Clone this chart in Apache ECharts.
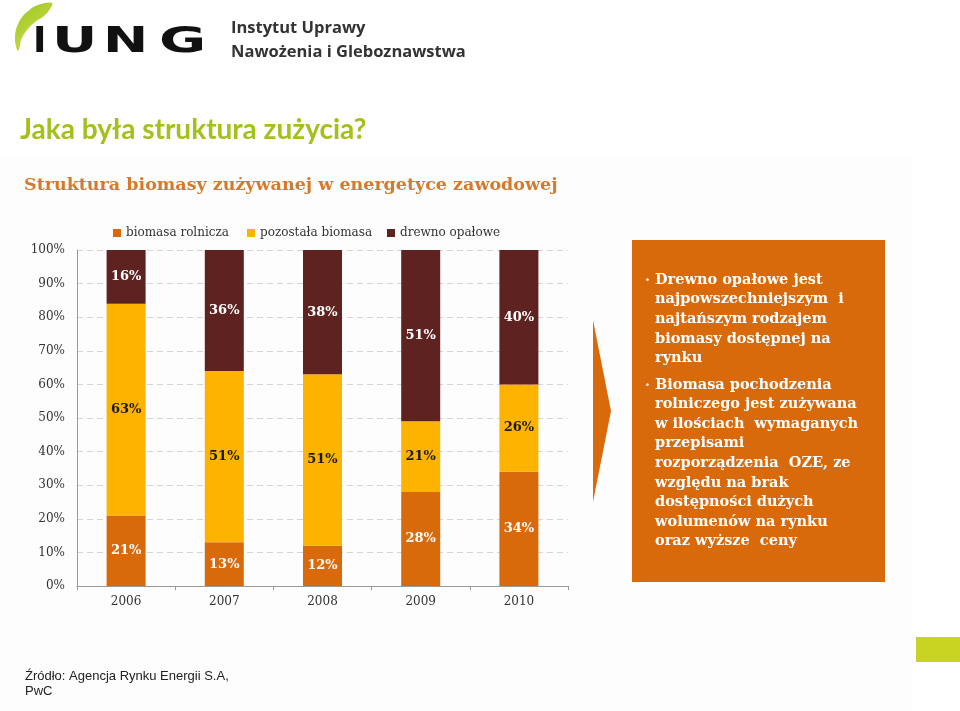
<!DOCTYPE html>
<html><head><meta charset="utf-8">
<script src="https://cdn.jsdelivr.net/npm/echarts@6/dist/echarts.min.js"></script>
<style>html,body{margin:0;padding:0;background:#fff}#c{width:960px;height:711px}</style>
</head><body><div id="c"></div>
<script>
const categories = ['2006', '2007', '2008', '2009', '2010'];
const biomasaRolnicza = [21, 13, 12, 28, 34];
const pozostalaBiomasa = [63, 51, 51, 21, 26];
const drewnoOpalowe = [16, 36, 38, 51, 40];
const seriesNames = ['biomasa rolnicza', 'pozostała biomasa', 'drewno opałowe'];
const yTicks = [0, 10, 20, 30, 40, 50, 60, 70, 80, 90, 100];

const C_OR = '#D96A0B', C_YE = '#FDB300', C_BR = '#5E2220';
const SERIF = 'DejaVu Serif';

const box1 = ['Drewno opałowe jest', 'najpowszechniejszym  i', 'najtańszym rodzajem', 'biomasy dostępnej na', 'rynku'];
const box2 = ['Biomasa pochodzenia', 'rolniczego jest zużywana', 'w ilościach  wymaganych', 'przepisami', 'rozporządzenia  OZE, ze', 'względu na brak', 'dostępności dużych', 'wolumenów na rynku', 'oraz wyższe  ceny'];

const chart = echarts.init(document.getElementById('c'));

function legendAt(left, name) {
  return { data: [name], left: left, top: 227, padding: 0, itemWidth: 8, itemHeight: 8, icon: 'rect', itemGap: 2,
    textStyle: { fontFamily: SERIF, fontSize: 12, color: '#333' }, selectedMode: false };
}

function lbl(color) {
  return { show: true, position: 'inside', formatter: p => p.value + '%', color: color,
    fontFamily: SERIF, fontWeight: 'bold', fontSize: 13 };
}

const graphic = [
  { type: 'rect', shape: { x: 0, y: 157, width: 913, height: 554 }, style: { fill: '#FDFDFD' }, z: -10 },
  // logo leaf
  { type: 'polygon', shape: { smooth: 0.4, points: [[17,50],[15,36],[19,22],[27,12],[38,5],[52,3],[50,9],[44,16],[35,22],[27,30],[21,40],[19,50]] },
    style: { fill: new echarts.graphic.LinearGradient(0, 0, 1, 1, [{ offset: 0, color: '#9CC424' }, { offset: 1, color: '#D2E34E' }]) } },
  { type: 'text', x: 33, y: 43, style: { text: 'I', font: 'bold 36px "DejaVu Sans"', fill: '#111', textVerticalAlign: 'middle' }, scaleX: 1 },
  { type: 'text', x: 52, y: 43, style: { text: 'U', font: 'bold 36px "DejaVu Sans"', fill: '#111', textVerticalAlign: 'middle' }, scaleX: 1.55 },
  { type: 'text', x: 103, y: 43, style: { text: 'N', font: 'bold 36px "DejaVu Sans"', fill: '#111', textVerticalAlign: 'middle' }, scaleX: 1.5 },
  { type: 'text', x: 159, y: 43, style: { text: 'G', font: 'bold 36px "DejaVu Sans"', fill: '#111', textVerticalAlign: 'middle' }, scaleX: 1.6 },
  { type: 'text', x: 231, y: 28, style: { text: 'Instytut Uprawy', font: 'bold 16.5px "Open Sans"', fill: '#333', textVerticalAlign: 'middle' } },
  { type: 'text', x: 231, y: 52, style: { text: 'Nawożenia i Gleboznawstwa', font: 'bold 16.5px "Open Sans"', fill: '#333', textVerticalAlign: 'middle' } },
  // heading
  { type: 'text', x: 20, y: 130, style: { text: 'Jaka była struktura zużycia?', font: 'bold 28px Lato', fill: '#A2C11C', textVerticalAlign: 'middle' } },
  // chart title
  { type: 'text', x: 24, y: 185, style: { text: 'Struktura biomasy zużywanej w energetyce zawodowej', font: 'bold 17.5px "DejaVu Serif"', fill: '#D47A2C', textVerticalAlign: 'middle' } },
  // arrow
  { type: 'polygon', shape: { points: [[593, 320], [611, 411], [593, 502]] }, style: { fill: C_OR } },
  // box
  { type: 'rect', shape: { x: 632, y: 240, width: 253, height: 342 }, style: { fill: C_OR } },
  { type: 'text', x: 645, y: 281, style: { text: '·', font: 'bold 14px "DejaVu Serif"', fill: '#fff', textVerticalAlign: 'middle' } },
  { type: 'text', x: 645, y: 386, style: { text: '·', font: 'bold 14px "DejaVu Serif"', fill: '#fff', textVerticalAlign: 'middle' } },
  { type: 'text', x: 655, y: 270, style: { text: box1.join('\n'), font: 'bold 14.5px "DejaVu Serif"', lineHeight: 19.7, fill: '#fff' } },
  { type: 'text', x: 655, y: 375, style: { text: box2.join('\n'), font: 'bold 14.5px "DejaVu Serif"', lineHeight: 19.6, fill: '#fff' } },
  // source
  { type: 'text', x: 25, y: 669, style: { text: 'Źródło: Agencja Rynku Energii S.A,\nPwC', font: '13px "Liberation Sans Narrow", "Liberation Sans"', lineHeight: 15, fill: '#222' } },
  // green square
  { type: 'rect', shape: { x: 916, y: 637, width: 44, height: 25 }, style: { fill: '#C9D321' } }
];

chart.setOption({
  animation: false,
  backgroundColor: '#fff',
  graphic: graphic,
  legend: [legendAt(113, seriesNames[0]), legendAt(247, seriesNames[1]), legendAt(387, seriesNames[2])],
  grid: { left: 77, top: 250, width: 491, height: 336, containLabel: false },
  xAxis: {
    type: 'category', data: categories,
    axisLine: { lineStyle: { color: '#999' } },
    axisTick: { show: true, length: 4, lineStyle: { color: '#999' } },
    axisLabel: { color: '#333', fontFamily: SERIF, fontSize: 12, margin: 10 }
  },
  yAxis: {
    type: 'value', min: 0, max: 100, interval: 10,
    axisLine: { show: true, lineStyle: { color: '#999' } },
    axisTick: { show: false },
    axisLabel: { formatter: '{value}%', color: '#333', fontFamily: SERIF, fontSize: 12, margin: 12 },
    splitLine: { lineStyle: { color: '#D4D4D4', type: [6, 4] } }
  },
  series: [
    { name: seriesNames[0], type: 'bar', stack: 's', data: biomasaRolnicza, barWidth: 39, itemStyle: { color: C_OR }, label: lbl('#fff') },
    { name: seriesNames[1], type: 'bar', stack: 's', data: pozostalaBiomasa, barWidth: 39, itemStyle: { color: C_YE }, label: lbl('#1a1a1a') },
    { name: seriesNames[2], type: 'bar', stack: 's', data: drewnoOpalowe, barWidth: 39, itemStyle: { color: C_BR }, label: lbl('#fff') }
  ]
});
</script></body></html>
